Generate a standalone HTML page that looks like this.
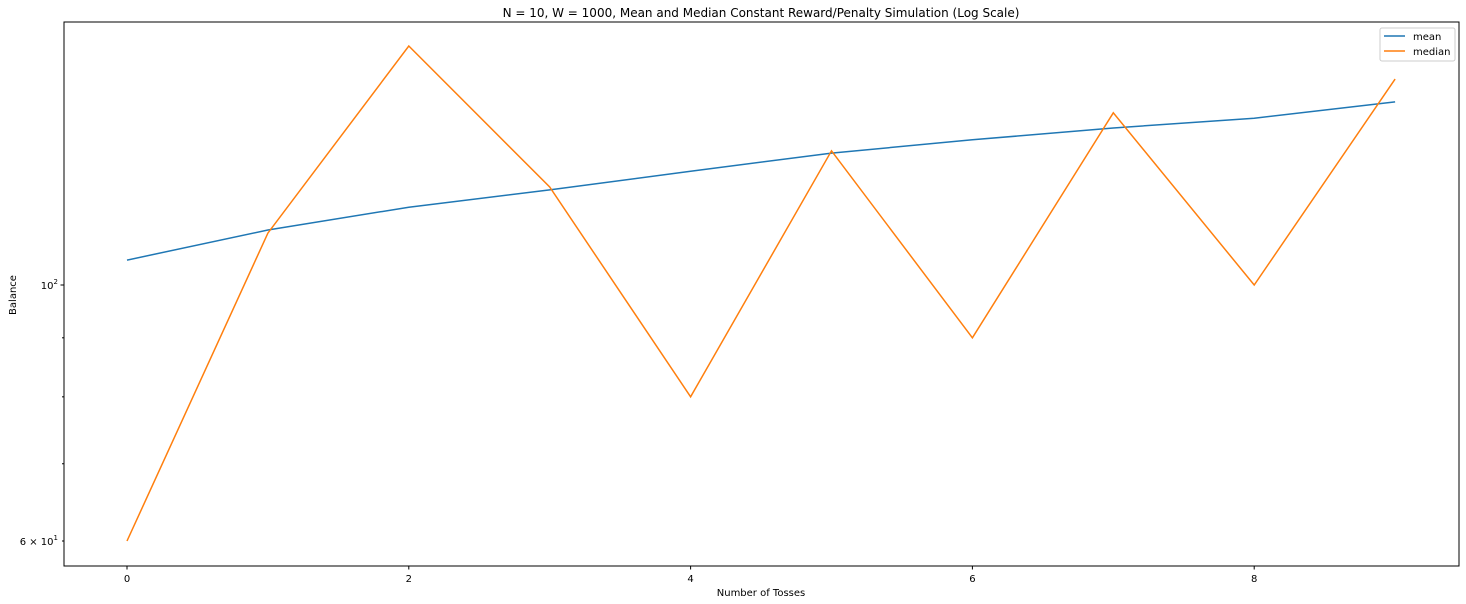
<!DOCTYPE html>
<html><head><meta charset="utf-8">
<style>
body{margin:0;background:#fff;}
svg{display:block;font-family:"DejaVu Sans","Liberation Sans",sans-serif;}
</style></head>
<body>
<svg id="chart" width="1466" height="604" viewBox="0 0 1466 604">
<rect x="0" y="0" width="1466" height="604" fill="#fff"/>
<text x="761" y="17" text-anchor="middle" font-size="12" fill="#000">N = 10, W = 1000, Mean and Median Constant Reward/Penalty Simulation (Log Scale)</text>
<g id="plot"></g>
<text x="761" y="596" text-anchor="middle" font-size="10">Number of Tosses</text>
<text x="16" y="295" text-anchor="middle" font-size="10" transform="rotate(-90 16 295)">Balance</text>
</svg>
<script>
const tosses=[0,1,2,3,4,5,6,7,8,9];
const meanVals=[105.1,111.6,116.8,120.9,125.5,130.1,133.6,136.8,139.5,144.1];
const medianVals=[60,110.9,161.1,121.6,80,130.7,90,141,100,150.8];
const xTicks=[0,2,4,6,8];
const yMinorTicks=[60,70,80,90];

const NS="http://www.w3.org/2000/svg";
const L=64,R=1459,T=22,B=566;
const x0=127,xStep=140.9;
function X(v){return x0+v*xStep;}
const pxPerDecade=1154, y100=285;
function Y(v){return y100-(Math.log10(v)-2)*pxPerDecade;}
const g=document.getElementById('plot');
function mk(tag,attrs){const e=document.createElementNS(NS,tag);for(const k in attrs)e.setAttribute(k,attrs[k]);g.appendChild(e);return e;}

function line(vals,color,name){
  const d=vals.map((v,i)=>(i?'L':'M')+X(tosses[i]).toFixed(1)+','+Y(v).toFixed(1)).join(' ');
  const p=mk('path',{d:d,fill:'none',stroke:color,'stroke-width':1.5});
  
  
}
line(meanVals,'#1f77b4','mean-line');
line(medianVals,'#ff7f0e','median-line');

const frame=mk('rect',{x:L,y:T,width:R-L,height:B-T,fill:'none',stroke:'#000','stroke-width':1});



xTicks.forEach(t=>{
  const tk=mk('line',{x1:X(t),x2:X(t),y1:B,y2:B+3.5,stroke:'#000'});
  
  
  const lb=mk('text',{x:X(t),y:B+16,'text-anchor':'middle','font-size':10});
  lb.textContent=t;
  
  
});
const mj=mk('line',{x1:L-3.5,x2:L,y1:Y(100),y2:Y(100),stroke:'#000'});


const ml=mk('text',{x:L-6,y:Y(100)+4,'text-anchor':'end','font-size':10});
ml.innerHTML='10<tspan font-size="7" dy="-5">2</tspan>';


yMinorTicks.forEach(t=>{
  const tk=mk('line',{x1:L-2,x2:L,y1:Y(t),y2:Y(t),stroke:'#000'});
  
  
});
const ml2=mk('text',{x:L-6,y:Y(60)+4,'text-anchor':'end','font-size':10});
ml2.innerHTML='6 × 10<tspan font-size="7" dy="-5">1</tspan>';



const lg=mk('rect',{x:1380,y:28,width:75,height:33,rx:2,fill:'#fff',stroke:'#ccc','fill-opacity':0.8});


[['mean','#1f77b4',36],['median','#ff7f0e',51]].forEach(([n,c,y])=>{
  const l=mk('line',{x1:1384,x2:1405,y1:y,y2:y,stroke:c,'stroke-width':1.5});
  
  
  const t=mk('text',{x:1413,y:y+4,'font-size':10});
  t.textContent=n;
  
  
});
</script>
</body></html>
